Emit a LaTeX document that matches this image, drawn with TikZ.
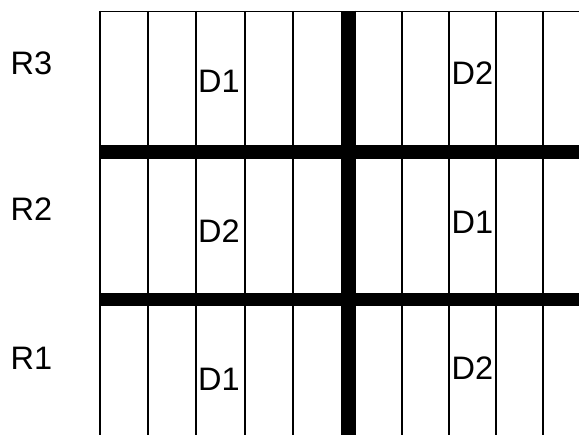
\documentclass[tikz,border=0pt]{standalone}
\usepackage{fontspec}
\setmainfont{Liberation Sans}
\begin{document}
\begin{tikzpicture}[x=1bp,y=-1bp,
  thin line/.style={line width=1.8bp,black},
  thick bar/.style={line width=14.3bp,black},
  lab/.style={anchor=base west,inner sep=0pt,font=\fontsize{32.5bp}{37bp}\selectfont}]
\useasboundingbox (0,0) rectangle (579,435);
% thin vertical lines
\foreach \x in {100,148.3,196.3,245,293.3,401.7,449,495.7,542.7}
  \draw[thin line] (\x,11) -- (\x,435);
% top line
\draw[thin line] (99.1,11.5) -- (579,11.5);
% thick bars
\draw[line width=15.3bp] (348.8,10.6) -- (348.8,435);
\draw[thick bar] (99.1,152.2) -- (579,152.2);
\draw[line width=13.6bp] (99.1,299.4) -- (579,299.4);
% row labels
\node[lab] (r3) at (10.5,75) {R3};
\node[lab] (r2) at (10.5,221) {R2};
\node[lab] (r1) at (10.5,369) {R1};
% design labels
\node[lab] (d1a) at (198,92.5) {D1};
\node[lab] (d2a) at (451.5,85) {D2};
\node[lab] (d2b) at (198,243) {D2};
\node[lab] (d1b) at (451.5,234) {D1};
\node[lab] (d1c) at (198,390) {D1};
\node[lab] (d2c) at (451.5,379) {D2};
\end{tikzpicture}
\end{document}
